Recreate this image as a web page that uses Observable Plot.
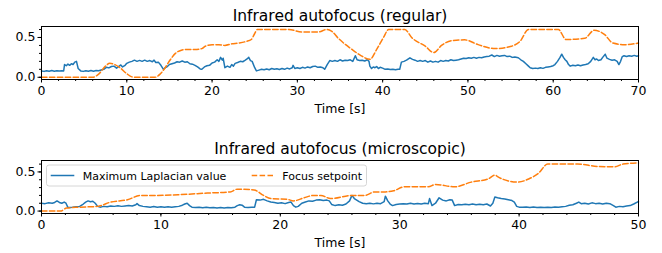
<!DOCTYPE html>
<html><head><meta charset="utf-8">
<script src="https://cdn.jsdelivr.net/npm/d3@7"></script>
<script src="https://cdn.jsdelivr.net/npm/@observablehq/plot@0.6"></script>
<style>
body{margin:0;background:#fff;}
#c{width:662px;}
#c svg{display:block;}
</style>
</head><body><div id="c"></div>
<script>
// ---- Data (time [s], value) ----
const regularLaplacian = [
[0,0.08],[0.3,0.074],[0.6,0.083],[0.9,0.077],[1.2,0.084],[1.5,0.076],[1.8,0.082],[2.1,0.078],[2.4,0.083],[2.6,0.079],[2.7,0.16],[2.9,0.145],[3.1,0.165],[3.3,0.15],[3.5,0.17],
[3.7,0.16],[3.9,0.19],[4.1,0.2],[4.3,0.11],[4.6,0.08],[4.9,0.074],[5.2,0.083],[5.5,0.077],[5.8,0.084],[6.1,0.076],[6.4,0.085],[6.7,0.082],[7.0,0.092],[7.3,0.1],[7.6,0.125],
[7.9,0.118],[8.2,0.135],[8.5,0.14],[8.8,0.115],[9.0,0.13],[9.3,0.155],[9.5,0.13],[9.8,0.15],[10,0.175],[10.3,0.19],[10.6,0.2],[10.9,0.215],[11.2,0.2],[11.5,0.212],[11.8,0.2],
[12.1,0.215],[12.4,0.2],[12.7,0.21],[13,0.195],[13.2,0.215],[13.4,0.185],[13.7,0.19],[14,0.15],[14.3,0.1],[14.5,0.12],[14.7,0.13],[15,0.16],[15.3,0.17],[15.6,0.18],[15.9,0.195],
[16.2,0.19],[16.5,0.205],[16.8,0.19],[17.1,0.195],[17.4,0.17],[17.7,0.165],[18,0.15],[18.3,0.13],[18.6,0.105],[18.8,0.1],[19.1,0.13],[19.4,0.145],[19.7,0.15],[20,0.18],[20.3,0.19],
[20.6,0.22],[20.8,0.2],[21,0.25],[21.2,0.215],[21.3,0.24],[21.5,0.12],[21.8,0.14],[22.1,0.125],[22.3,0.16],[22.5,0.14],[22.7,0.175],[23,0.185],[23.3,0.2],[23.6,0.195],[23.9,0.215],
[24.1,0.23],[24.3,0.25],[24.5,0.21],[24.7,0.2],[25,0.12],[25.2,0.08],[25.5,0.09],[25.8,0.1],[26.1,0.095],[26.4,0.105],[26.7,0.095],[27,0.11],[27.3,0.1],[27.6,0.108],[27.9,0.098],
[28.2,0.11],[28.5,0.1],[28.8,0.115],[29.1,0.105],[29.4,0.12],[29.5,0.15],[29.7,0.11],[30,0.12],[30.3,0.11],[30.6,0.125],[30.9,0.115],[31.2,0.13],[31.5,0.12],[31.8,0.135],[32.1,0.14],
[32.4,0.125],[32.7,0.13],[33,0.12],[33.2,0.1],[33.5,0.16],[33.8,0.21],[34.1,0.2],[34.4,0.21],[34.7,0.2],[35,0.22],[35.3,0.205],[35.6,0.215],[35.9,0.21],[36.2,0.22],[36.5,0.2],
[36.8,0.27],[37,0.22],[37.3,0.21],[37.6,0.215],[37.9,0.205],[38.2,0.22],[38.4,0.2],[38.5,0.14],[38.7,0.11],[38.9,0.13],[39.1,0.12],[39.3,0.135],[39.5,0.11],[39.7,0.125],[40,0.115],
[40.3,0.1],[40.6,0.105],[40.9,0.098],[41.2,0.1],[41.5,0.095],[41.8,0.1],[42,0.1],[42.2,0.19],[42.5,0.2],[42.8,0.215],[43.2,0.245],[43.5,0.225],[43.8,0.215],[44.1,0.2],[44.4,0.21],
[44.7,0.2],[45,0.21],[45.3,0.19],[45.6,0.205],[45.9,0.19],[46.2,0.2],[46.5,0.19],[46.8,0.21],[47.1,0.2],[47.4,0.21],[47.7,0.205],[48,0.22],[48.3,0.21],[48.6,0.215],[48.9,0.22],
[49.2,0.23],[49.5,0.24],[49.8,0.235],[50.1,0.245],[50.4,0.24],[50.7,0.25],[51,0.24],[51.3,0.25],[51.6,0.245],[51.9,0.255],[52.2,0.26],[52.5,0.265],[52.8,0.28],[53.1,0.26],[53.4,0.275],
[53.7,0.265],[54,0.27],[54.3,0.275],[54.6,0.26],[54.9,0.265],[55.2,0.25],[55.5,0.255],[55.9,0.245],[56.2,0.22],[56.5,0.2],[56.8,0.17],[57.1,0.14],[57.3,0.12],[57.6,0.11],[57.9,0.115],
[58.2,0.11],[58.5,0.12],[58.8,0.112],[59.1,0.125],[59.4,0.13],[59.7,0.135],[60,0.145],[60.2,0.16],[60.5,0.2],[60.8,0.25],[61,0.29],[61.2,0.25],[61.4,0.22],[61.6,0.2],[61.8,0.16],
[62,0.14],[62.3,0.15],[62.6,0.145],[62.9,0.155],[63.2,0.145],[63.5,0.155],[63.8,0.16],[64.1,0.17],[64.4,0.2],[64.7,0.25],[64.9,0.22],[65.1,0.23],[65.3,0.21],[65.6,0.22],[65.8,0.25],
[66.1,0.29],[66.3,0.24],[66.6,0.225],[66.9,0.215],[67.2,0.22],[67.5,0.2],[67.7,0.16],[67.9,0.2],[68.1,0.26],[68.3,0.27],[68.6,0.26],[68.9,0.27],[69.2,0.265],[69.5,0.275],[69.8,0.265],[70,0.27]
];
const regularSetpoint = [
[0,0],[6,0],[6.7,0.04],[7.5,0.14],[8,0.175],[8.6,0.16],[9.2,0.12],[10,0.045],[10.6,0.005],[11,0],[13.3,0],[13.9,0.04],[14.5,0.12],[15.1,0.22],[15.7,0.3],[16.4,0.34],
[17,0.35],[18,0.35],[18.8,0.36],[19.2,0.39],[20,0.41],[20.8,0.41],[21.5,0.4],[22.3,0.42],[23.1,0.43],[24,0.45],[24.6,0.475],[25,0.55],[25.3,0.6],[29,0.6],[30.5,0.57],
[32.5,0.57],[33.4,0.6],[34,0.58],[34.8,0.49],[36.4,0.35],[37.5,0.27],[38.5,0.225],[39.3,0.35],[40.1,0.5],[40.7,0.6],[42.6,0.6],[43.4,0.5],[45,0.39],[46,0.31],[46.9,0.4],
[48.1,0.46],[49.6,0.47],[51.2,0.41],[53.2,0.36],[55.1,0.39],[56.1,0.45],[57.1,0.6],[60.6,0.6],[61.5,0.475],[63.7,0.49],[64.8,0.59],[66,0.54],[67,0.43],[68.4,0.41],[70,0.43]
];
const microLaplacian = [
[0,0.1],[0.3,0.095],[0.6,0.105],[0.9,0.1],[1.1,0.11],[1.3,0.13],[1.5,0.11],[1.7,0.1],[1.9,0.115],[2.05,0.1],[2.2,0.05],[2.4,0.045],[2.6,0.048],[2.9,0.055],[3.2,0.06],
[3.5,0.09],[3.7,0.115],[3.9,0.13],[4.1,0.12],[4.3,0.125],[4.5,0.1],[4.7,0.06],[4.9,0.05],[5.2,0.06],[5.5,0.055],[5.8,0.065],[6.1,0.06],[6.4,0.068],[6.7,0.06],[7,0.065],
[7.3,0.07],[7.6,0.065],[7.9,0.08],[8.0,0.095],[8.2,0.07],[8.5,0.06],[8.8,0.055],[9.1,0.05],[9.4,0.058],[9.7,0.05],[10,0.055],[10.3,0.048],[10.6,0.056],[10.9,0.05],[11.2,0.055],
[11.5,0.06],[11.8,0.075],[12.0,0.09],[12.2,0.1],[12.4,0.07],[12.6,0.05],[12.9,0.045],[13.2,0.05],[13.5,0.043],[13.8,0.048],[14.1,0.042],[14.4,0.047],[14.7,0.04],[15,0.045],
[15.3,0.04],[15.6,0.046],[15.9,0.042],[16.2,0.05],[16.4,0.07],[16.6,0.08],[16.8,0.075],[17,0.05],[17.3,0.045],[17.6,0.05],[17.85,0.05],[18,0.145],[18.3,0.14],[18.6,0.15],
[18.9,0.13],[19.2,0.115],[19.5,0.11],[19.8,0.1],[20.1,0.105],[20.4,0.095],[20.7,0.11],[20.9,0.115],[21.1,0.07],[21.3,0.05],[21.5,0.06],[21.8,0.1],[22.1,0.115],[22.4,0.13],
[22.7,0.125],[23,0.14],[23.3,0.145],[23.6,0.135],[23.9,0.14],[24.1,0.13],[24.3,0.085],[24.6,0.07],[24.9,0.08],[25.2,0.075],[25.5,0.09],[25.8,0.13],[26,0.2],[26.2,0.16],
[26.4,0.14],[26.6,0.12],[26.9,0.1],[27.2,0.095],[27.5,0.1],[27.8,0.092],[28.1,0.1],[28.4,0.095],[28.7,0.12],[28.8,0.19],[29,0.13],[29.2,0.09],[29.4,0.07],[29.7,0.085],
[30,0.09],[30.3,0.095],[30.6,0.09],[30.9,0.1],[31.2,0.09],[31.5,0.098],[31.8,0.09],[32.1,0.1],[32.4,0.095],[32.5,0.16],[32.7,0.07],[33,0.1],[33.3,0.17],[33.6,0.14],
[33.9,0.13],[34.2,0.145],[34.4,0.14],[34.6,0.07],[34.9,0.085],[35.2,0.08],[35.5,0.088],[35.8,0.082],[36.1,0.09],[36.4,0.08],[36.7,0.088],[37,0.082],[37.3,0.09],[37.6,0.065],
[37.8,0.1],[37.97,0.18],[38.2,0.17],[38.5,0.16],[38.8,0.155],[39.1,0.145],[39.4,0.135],[39.6,0.115],[39.8,0.06],[40,0.05],[40.3,0.048],[40.6,0.052],[40.9,0.047],[41.2,0.053],
[41.5,0.046],[41.8,0.05],[42.1,0.045],[42.4,0.05],[42.7,0.047],[43,0.052],[43.3,0.05],[43.6,0.055],[43.9,0.06],[44.2,0.075],[44.5,0.08],[44.8,0.1],[45,0.115],[45.2,0.095],
[45.5,0.1],[45.8,0.09],[46.1,0.105],[46.4,0.095],[46.7,0.1],[47,0.09],[47.3,0.1],[47.6,0.095],[47.9,0.07],[48.1,0.05],[48.4,0.06],[48.7,0.055],[49,0.065],[49.3,0.07],
[49.6,0.09],[49.9,0.115],[50,0.12]
];
const microSetpoint = [
[0,0],[1.6,0],[2.1,0.04],[3.2,0.05],[4.7,0.06],[5.8,0.115],[7.2,0.145],[8.3,0.2],[9.4,0.2],[11.6,0.21],[13.9,0.23],[15.8,0.245],[16.4,0.28],[17.8,0.27],[18.6,0.2],
[19.2,0.16],[20.6,0.15],[21.1,0.13],[22,0.17],[22.8,0.2],[23.4,0.2],[24.2,0.16],[26,0.2],[27.1,0.2],[27.9,0.245],[28.8,0.245],[29.5,0.26],[30.4,0.31],[32.4,0.31],[33,0.34],
[34.6,0.31],[36,0.37],[37.4,0.41],[38,0.46],[38.2,0.44],[39.1,0.385],[39.9,0.37],[40.8,0.41],[41.6,0.48],[42.4,0.6],[44.9,0.6],[46.6,0.57],[48,0.565],[48.7,0.6],[50,0.615]
];
const titles = ["Infrared autofocus (regular)", "Infrared autofocus (microscopic)"];
const xLabel = "Time [s]";
const seriesNames = ["Maximum Laplacian value", "Focus setpoint"];
const yTicks = [0, 0.5];

const BLUE = "#1f77b4", ORANGE = "#ff7f0e";
const FONT = "'DejaVu Sans', sans-serif";

function panel({title, lap, set, xMax, yDomain, height, marginTop, marginBottom, titleDy}) {
  return Plot.plot({
    width: 662, height, marginLeft: 41, marginRight: 24, marginTop, marginBottom,
    style: {fontFamily: FONT, fontSize: "12.5px", color: "black", background: "white", overflow: "visible"},
    x: {domain: [0, xMax]},
    y: {domain: yDomain},
    marks: [
      Plot.line(lap, {x: d => d[0], y: d => d[1], stroke: BLUE, strokeWidth: 1.5}),
      Plot.line(set, {x: d => d[0], y: d => d[1], stroke: ORANGE, strokeWidth: 1.5, strokeDasharray: "5.5,2.4", curve: "monotone-x"}),
      Plot.axisX(d3.range(0, xMax + 1, 10), {tickSize: 3.5, tickPadding: 3, label: null, tickFormat: d => String(d)}),
      Plot.axisX(d3.range(0, xMax + 1, 2), {tickSize: 2, text: null, label: null}),
      Plot.axisY(yTicks, {tickSize: 3.5, tickPadding: 2.5, label: null, tickFormat: d => d.toFixed(1)}),
      Plot.axisY(d3.range(0, 0.61, 0.1), {tickSize: 2, text: null, label: null}),
      Plot.frame({stroke: "black", strokeWidth: 1}),
      Plot.text([title], {text: d => d, frameAnchor: "top", dy: titleDy, fontSize: 15.5, lineAnchor: "middle", fill: "black"}),
      Plot.text([xLabel], {text: d => d, frameAnchor: "bottom", dy: 29.5, fontSize: 12.5, lineAnchor: "middle", fill: "black"})
    ]
  });
}

const c = document.getElementById("c");
c.append(panel({title: titles[0], lap: regularLaplacian, set: regularSetpoint, xMax: 70, yDomain: [-0.028, 0.638], height: 126, marginTop: 26, marginBottom: 47, titleDy: -10.6}));
const bottom = panel({title: titles[1], lap: microLaplacian, set: microSetpoint, xMax: 50, yDomain: [-0.031, 0.646], height: 127, marginTop: 34, marginBottom: 40, titleDy: -11});
c.append(bottom);

// legend inside lower panel (upper-left)
const svg = d3.select(bottom.tagName.toLowerCase() === "svg" ? bottom : bottom.querySelector("svg"));
const lg = svg.append("g").attr("font-family", FONT).attr("font-size", 11).attr("text-anchor", "start");
lg.append("rect").attr("x", 46.5).attr("y", 39).attr("width", 320).attr("height", 21).attr("rx", 2.5)
  .attr("fill", "white").attr("fill-opacity", 0.8).attr("stroke", "#cccccc").attr("stroke-width", 0.8);
lg.append("line").attr("x1", 50.7).attr("x2", 74.3).attr("y1", 49.5).attr("y2", 49.5).attr("stroke", BLUE).attr("stroke-width", 1.5);
lg.append("text").attr("x", 82.7).attr("y", 53.5).attr("fill", "black").attr("text-anchor", "start").text(seriesNames[0]);
lg.append("line").attr("x1", 251.7).attr("x2", 275).attr("y1", 49.5).attr("y2", 49.5).attr("stroke", ORANGE).attr("stroke-width", 1.5).attr("stroke-dasharray", "5.5,2.4");
lg.append("text").attr("x", 282.3).attr("y", 53.5).attr("fill", "black").attr("text-anchor", "start").text(seriesNames[1]);
</script>
</body></html>
